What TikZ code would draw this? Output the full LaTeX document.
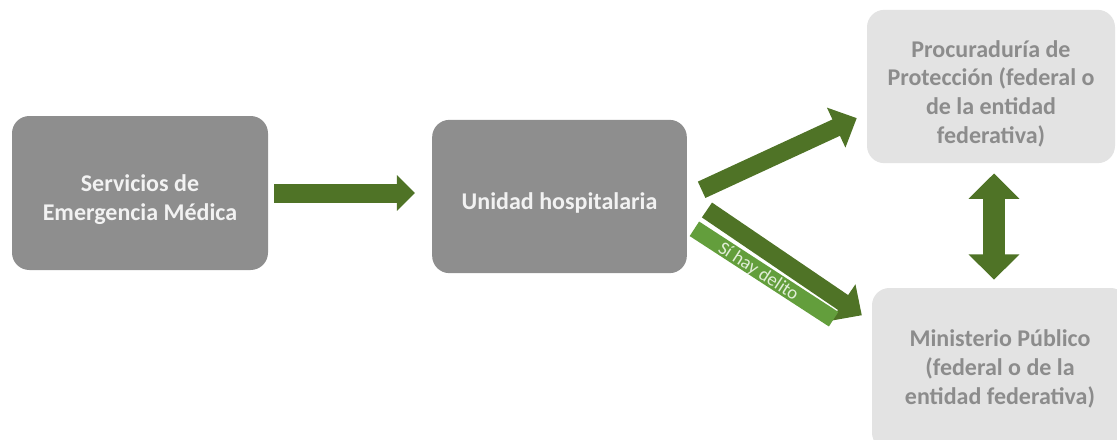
\documentclass[tikz,border=0pt]{standalone}
\usepackage{fontspec}
\setmainfont{Carlito}
\usetikzlibrary{arrows.meta,calc}

\definecolor{verde}{RGB}{79,115,38}
\definecolor{verdeclaro}{RGB}{99,158,60}
\definecolor{grisoscuro}{RGB}{142,142,142}
\definecolor{grisclaro}{RGB}{227,227,227}
\definecolor{textoblanco}{RGB}{242,242,242}
\definecolor{textoetiqueta}{RGB}{225,238,215}
\definecolor{textogris}{RGB}{140,140,140}

% baja un poco el texto dentro de la caja
\newcommand{\alto}{\rule{0pt}{23pt}}

\tikzset{
  caja/.style={rectangle, rounded corners=13pt, fill=grisoscuro, text=textoblanco,
    font=\fontsize{18}{21.5}\selectfont\bfseries, align=center, inner sep=0pt},
  cajaclara/.style={caja, fill=grisclaro, text=textogris},
  flecha/.style={draw=verde, line width=14.25pt, -{Triangle[length=13.5pt,width=26pt]}},
  flechadiag/.style={draw=verde, line width=13.5pt, -{Triangle[length=17pt,width=32pt]}},
  flechadoble/.style={draw=verde, line width=17pt, {Triangle[length=19pt,width=37pt]}-{Triangle[length=19pt,width=37pt]}},
  etiqueta/.style={fill=verdeclaro, text=textoetiqueta, font=\fontsize{14}{14}\selectfont,
    minimum width=124.5pt, minimum height=13pt, inner sep=0pt,
    text height=11pt, text depth=1.5pt, execute at end node={\hspace{9pt}}}
}

\begin{document}
\begin{tikzpicture}[x=0.75pt,y=0.75pt,yscale=-1,xscale=1]
        \useasboundingbox (0,0) rectangle (1117,439);

        % Cajas
        \node [caja, minimum width=192pt, minimum height=115.5pt] (sem) at (140,193) {\alto Servicios de\\Emergencia Médica};
        \node [caja, minimum width=191pt, minimum height=115pt] (uh) at (559.5,196.5) {\alto Unidad hospitalaria};
        \node [cajaclara, minimum width=186pt, minimum height=115pt] (proc) at (991,86.5) {\alto Procuraduría de\\Protección (federal o\\de la entidad\\federativa)};
        \node [cajaclara, minimum width=192pt, minimum height=121.5pt] (mp) at (1000,369) {Ministerio Público\\(federal o de la\\entidad federativa)};

        % Flechas
        \coordinate (llegada) at ($(mp.west)+(0,-47)$);
        \draw [flecha, shorten <=4.5pt, shorten >=12.75pt] (sem.east) -- (sem.east -| uh.west);
        \draw [flechadiag, shorten <=12pt, shorten >=8.25pt] (uh.east) -- ($(proc.west)+(0,27)$);
        \draw [flechadiag, shorten <=18pt, shorten >=9pt] (uh.east) -- (llegada);
        \draw [flechadoble, shorten <=7.5pt, shorten >=6pt] ([xshift=2.25pt]proc.south) -- ([xshift=2.25pt]proc.south |- mp.north);

        % Etiqueta
        \node [etiqueta, rotate=-33] (delito) at (764,274) {Sí hay delito};

\end{tikzpicture}
\end{document}
